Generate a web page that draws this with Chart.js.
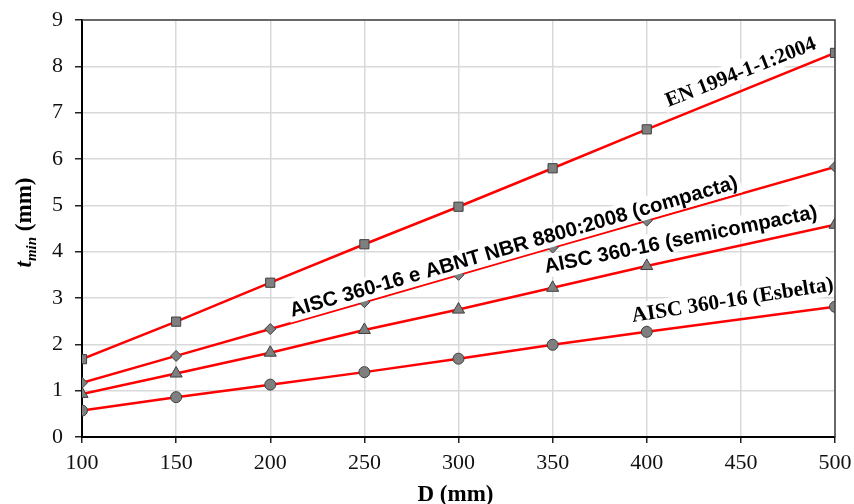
<!DOCTYPE html>
<html>
<head>
<meta charset="utf-8">
<script src="https://cdn.jsdelivr.net/npm/chart.js@4.4.1/dist/chart.umd.min.js"></script>
<style>
  html, body { margin: 0; padding: 0; background: #fff; }
  #wrap { width: 854px; height: 504px; }
</style>
</head>
<body>
<div id="wrap"><canvas id="c" width="854" height="504"></canvas></div>
<script>
// ---- data ----
const D = [100, 150, 200, 250, 300, 350, 400, 500];
const tEN = [1.68, 2.49, 3.33, 4.16, 4.97, 5.80, 6.64, 8.29];
const tCompacta = [1.17, 1.75, 2.33, 2.91, 3.50, 4.09, 4.67, 5.83];
const tSemicompacta = [0.93, 1.37, 1.82, 2.31, 2.75, 3.22, 3.69, 4.58];
const tEsbelta = [0.57, 0.86, 1.13, 1.40, 1.69, 1.99, 2.27, 2.81];
const xTickValues = [100, 150, 200, 250, 300, 350, 400, 450, 500];
const yTickValues = [0, 1, 2, 3, 4, 5, 6, 7, 8, 9];
const seriesNames = [
  'EN 1994-1-1:2004',
  'AISC 360-16 e ABNT NBR 8800:2008 (compacta)',
  'AISC 360-16 (semicompacta)',
  'AISC 360-16 (Esbelta)'
];

// ---- styling / annotation placement ----
const RED = '#ff0000';
const MK_FILL = '#7f7f7f';
const MK_EDGE = '#3f3f3f';
const SERIF = "'Liberation Serif', 'Times New Roman', serif";
const NARROW = "'Liberation Sans Narrow', 'Arial Narrow', 'Liberation Sans', sans-serif";

const labelSpecs = [
  { text: seriesNames[0], font: SERIF, x: 411.5, y: 7.12, angle: 21.5, width: 160 },
  { text: seriesNames[1], font: NARROW, x: 211.6, y: 2.59, angle: 16.1, width: 465 },
  { text: seriesNames[2], font: NARROW, x: 346.3, y: 3.54, angle: 11.4, width: 278 },
  { text: seriesNames[3], font: SERIF, x: 392.6, y: 2.48, angle: 9.0, width: 204 }
];

function pts(arr) { return D.map((x, i) => ({ x: x, y: arr[i] })); }

function ds(label, arr, style, radius) {
  return {
    label: label,
    data: pts(arr),
    borderColor: RED,
    borderWidth: 2.5,
    backgroundColor: MK_FILL,
    pointBackgroundColor: MK_FILL,
    pointBorderColor: MK_EDGE,
    pointBorderWidth: 1,
    pointStyle: style,
    pointRadius: radius,
    pointHoverRadius: radius,
    tension: 0,
    fill: false
  };
}

const annotPlugin = {
  id: 'annot',
  afterDraw(chart) {
    const ctx = chart.ctx;
    const a = chart.chartArea;
    ctx.save();
    ctx.strokeStyle = '#404040';
    ctx.lineWidth = 1.5;
    ctx.beginPath();
    ctx.moveTo(a.left, a.top);
    ctx.lineTo(a.right, a.top);
    ctx.lineTo(a.right, a.bottom);
    ctx.stroke();
    ctx.restore();
  },
  afterDatasetsDraw(chart) {
    const ctx = chart.ctx;
    const xs = chart.scales.x, ys = chart.scales.y;
    labelSpecs.forEach(s => {
      const px = xs.getPixelForValue(s.x);
      const py = ys.getPixelForValue(s.y);
      ctx.save();
      ctx.translate(px, py);
      ctx.rotate(-s.angle * Math.PI / 180);
      let size = 20;
      ctx.font = 'bold ' + size + 'px ' + s.font;
      const w0 = ctx.measureText(s.text).width;
      size = size * s.width / w0;
      ctx.font = 'bold ' + size.toFixed(2) + 'px ' + s.font;
      const w = ctx.measureText(s.text).width;
      const asc = size * 0.78, desc = size * 0.2;
      ctx.fillStyle = '#ffffff';
      ctx.fillRect(-3, -asc - 2, w + 6, asc + desc + 3);
      ctx.fillStyle = '#000000';
      ctx.textBaseline = 'alphabetic';
      ctx.textAlign = 'left';
      ctx.fillText(s.text, 0, 0);
      ctx.restore();
    });

    const a = chart.chartArea;
    // x title
    ctx.save();
    ctx.fillStyle = '#000';
    ctx.font = 'bold 23px ' + SERIF;
    ctx.textAlign = 'center';
    ctx.textBaseline = 'alphabetic';
    ctx.fillText('D (mm)', (a.left + a.right) / 2 - 3, 501);
    ctx.restore();

    // y title: t_min (mm)
    ctx.save();
    ctx.translate(31, (a.top + a.bottom) / 2 - 6);
    ctx.rotate(-Math.PI / 2);
    ctx.fillStyle = '#000';
    ctx.textBaseline = 'alphabetic';
    ctx.textAlign = 'left';
    const f1 = 'italic bold 23px ' + SERIF;
    const f2 = 'italic bold 15px ' + SERIF;
    const f3 = 'bold 23px ' + SERIF;
    ctx.font = f1; const w1 = ctx.measureText('t').width;
    ctx.font = f2; const w2 = ctx.measureText('min').width;
    ctx.font = f3; const w3 = ctx.measureText(' (mm)').width;
    let x0 = -(w1 + w2 + w3) / 2;
    ctx.font = f1; ctx.fillText('t', x0, 0); x0 += w1;
    ctx.font = f2; ctx.fillText('min', x0, 5); x0 += w2;
    ctx.font = f3; ctx.fillText(' (mm)', x0, 0);
    ctx.restore();
  }
};

new Chart(document.getElementById('c'), {
  type: 'line',
  data: {
    datasets: [
      ds(seriesNames[0], tEN, 'rect', 6.5),
      ds(seriesNames[1], tCompacta, 'rectRot', 5.5),
      ds(seriesNames[2], tSemicompacta, 'triangle', 7),
      ds(seriesNames[3], tEsbelta, 'circle', 5.5)
    ]
  },
  options: {
    responsive: false,
    animation: false,
    devicePixelRatio: 1,
    layout: { padding: { top: 20, right: 19, left: 0, bottom: 0 } },
    plugins: {
      legend: { display: false },
      tooltip: { enabled: false },
      title: { display: false }
    },
    scales: {
      x: {
        type: 'linear',
        min: 100,
        max: 500,
        afterBuildTicks(scale) { scale.ticks = xTickValues.map(v => ({ value: v })); },
        afterFit(scale) { scale.height = 67; scale.paddingLeft = 0; scale.paddingRight = 0; },
        ticks: {
          font: { family: SERIF, size: 22 },
          color: '#111',
          padding: 7,
          maxRotation: 0
        },
        grid: { color: '#d9d9d9', lineWidth: 1.5, tickColor: '#222', tickLength: 6 },
        border: { display: true, color: '#000', width: 2 }
      },
      y: {
        min: 0,
        max: 9,
        afterBuildTicks(scale) { scale.ticks = yTickValues.map(v => ({ value: v })); },
        afterFit(scale) { scale.width = 82; scale.paddingTop = 0; scale.paddingBottom = 0; },
        ticks: {
          font: { family: SERIF, size: 22 },
          color: '#111',
          padding: 12
        },
        grid: { color: '#d9d9d9', lineWidth: 1.5, tickColor: '#222', tickLength: 7 },
        border: { display: true, color: '#000', width: 2 }
      }
    }
  },
  plugins: [annotPlugin]
});
</script>
</body>
</html>
